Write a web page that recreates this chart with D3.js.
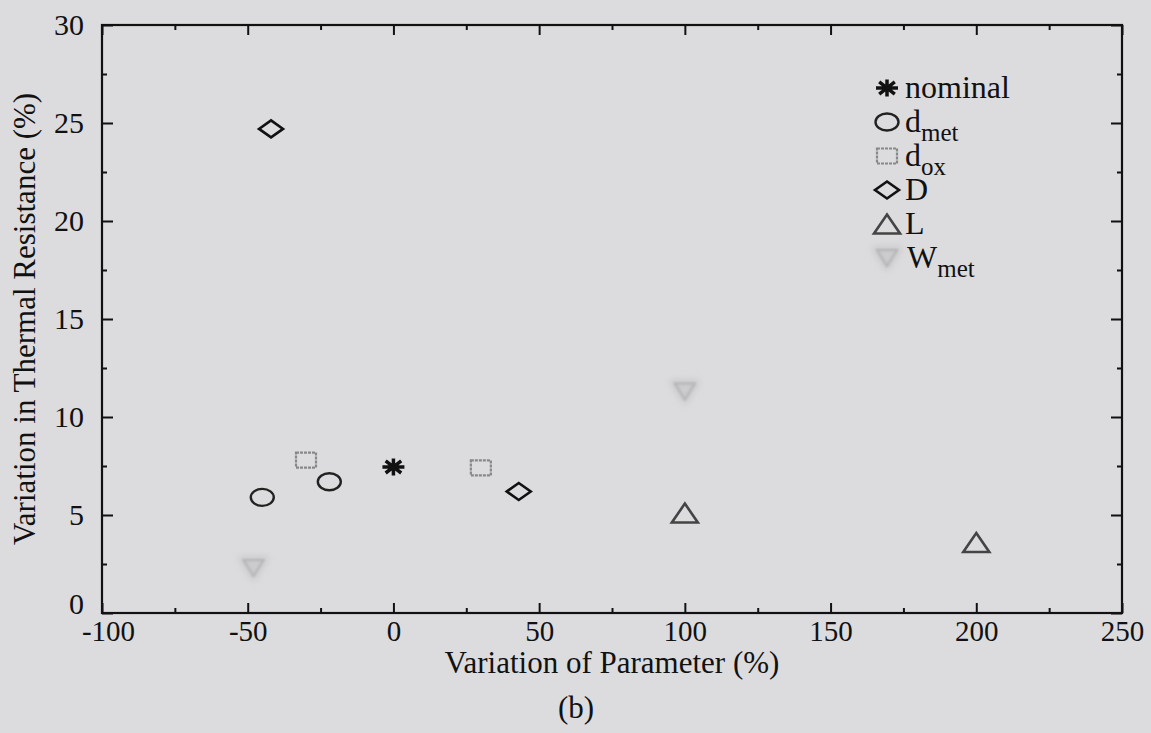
<!DOCTYPE html>
<html>
<head>
<meta charset="utf-8">
<script src="https://cdn.jsdelivr.net/npm/d3@7"></script>
<style>
  body { margin: 0; background: #dcdcdf; }
  svg { display: block; }
  text { font-family: "Liberation Serif", "Times New Roman", serif; fill: #111; }
</style>
</head>
<body>
<svg width="1151" height="733"></svg>
<script>
// data
const xTicks = [-100, -50, 0, 50, 100, 150, 200, 250];
const xMinor = [-75, -25, 25, 75, 125, 175, 225];
const yTicks = [0, 5, 10, 15, 20, 25, 30];
const yMinor = [2.5, 7.5, 12.5, 17.5, 22.5, 27.5];

const seriesNames = ["nominal", "dmet", "dox", "D", "L", "Wmet"];
const nominalX = [0], nominalY = [7.45];
const dmetX = [-45, -22], dmetY = [5.9, 6.7];
const doxX = [-30, 30], doxY = [7.8, 7.4];
const DX = [-42, 43], DY = [24.7, 6.2];
const LX = [100, 200], LY = [5.1, 3.6];
const WmetX = [-48, 100], WmetY = [2.3, 11.3];

const svg = d3.select("svg");
const margin = { left: 102, right: 29, top: 25, bottom: 120 };
const W = 1151, H = 733;

const x = d3.scaleLinear().domain([-100, 250]).range([margin.left, W - margin.right]);
const y = d3.scaleLinear().domain([0, 30]).range([H - margin.bottom, margin.top]);

// blur for the faded marks
const defs = svg.append("defs");
defs.append("filter").attr("id", "fade").attr("x", "-100%").attr("y", "-100%")
  .attr("width", "300%").attr("height", "300%")
  .append("feGaussianBlur").attr("stdDeviation", 3.5);
defs.append("filter").attr("id", "soft")
  .append("feGaussianBlur").attr("stdDeviation", 0.8);

// marker shapes, stretched a bit wider than tall like in the scan
function shape(type, w, h) {
  const p = d3.path(), a = w / 2, b = h / 2;
  if (type === "square") { p.rect(-a, -b, w, h); }
  if (type === "diamond") { p.moveTo(0, -b); p.lineTo(a, 0); p.lineTo(0, b); p.lineTo(-a, 0); p.closePath(); }
  if (type === "up") { p.moveTo(0, -b); p.lineTo(a, b); p.lineTo(-a, b); p.closePath(); }
  if (type === "down") { p.moveTo(-a, -b); p.lineTo(a, -b); p.lineTo(0, b); p.closePath(); }
  if (type === "star") {
    for (let k = 0; k < 4; k++) {
      const t = k * Math.PI / 4;
      p.moveTo(-a * Math.sin(t), -b * Math.cos(t));
      p.lineTo(a * Math.sin(t), b * Math.cos(t));
    }
  }
  return p.toString();
}
function ellipsePath(w, h) {
  const a = w / 2, b = h / 2;
  return `M${-a},0A${a},${b} 0 1,0 ${a},0A${a},${b} 0 1,0 ${-a},0Z`;
}

const styles = {
  nominal: { d: shape("star", 22, 17), stroke: "#111", sw: 3.5, dash: null, blur: false },
  dmet: { d: ellipsePath(23, 17), stroke: "#222", sw: 2.4, dash: null, blur: false },
  dox: { d: shape("square", 20, 15), stroke: "#888", sw: 2.2, dash: "3,1", blur: false },
  D: { d: shape("diamond", 24, 17), stroke: "#111", sw: 2.6, dash: null, blur: false },
  L: { d: shape("up", 26, 19), stroke: "#444", sw: 2.6, dash: null, blur: false },
  Wmet: { d: shape("down", 20, 16), stroke: "#b4b4b6", sw: 2, dash: null, blur: true }
};

const series = [
  { name: "nominal", xs: nominalX, ys: nominalY },
  { name: "dmet", xs: dmetX, ys: dmetY },
  { name: "dox", xs: doxX, ys: doxY },
  { name: "D", xs: DX, ys: DY },
  { name: "L", xs: LX, ys: LY },
  { name: "Wmet", xs: WmetX, ys: WmetY }
];

function drawMark(g, name) {
  const s = styles[name];
  if (s.blur) {
    g.append("path").attr("d", s.d).attr("fill", "none").attr("stroke", "#c8c8ca")
      .attr("stroke-width", 7).attr("filter", "url(#fade)");
  }
  g.append("path").attr("d", s.d).attr("fill", "none").attr("stroke", s.stroke)
    .attr("stroke-width", s.sw).attr("stroke-dasharray", s.dash)
    .attr("filter", s.blur ? "url(#soft)" : null)
    .attr("stroke-linejoin", "miter");
}

// axes: inward ticks on all four sides
function styleAxis(g) {
  g.select(".domain").remove();
  g.selectAll("line").attr("stroke", "#111").attr("stroke-width", 2);
  g.selectAll("text").attr("font-size", 29).attr("font-family", "Liberation Serif, serif").attr("fill", "#111");
}
const plain = d => String(d);
svg.append("g").attr("transform", `translate(0,${y(0)})`)
  .call(d3.axisBottom(x).tickValues(xTicks).tickSize(-10).tickPadding(7).tickFormat(plain))
  .call(styleAxis)
  .call(g => g.selectAll(".tick text").filter(d => d === -100).attr("dx", 6));
svg.append("g").attr("transform", `translate(0,${y(0)})`)
  .call(d3.axisBottom(x).tickValues(xMinor).tickSize(-5).tickFormat("")).call(styleAxis);
svg.append("g").attr("transform", `translate(0,${y(30)})`)
  .call(d3.axisTop(x).tickValues(xTicks).tickSize(-10).tickFormat("")).call(styleAxis);
svg.append("g").attr("transform", `translate(0,${y(30)})`)
  .call(d3.axisTop(x).tickValues(xMinor).tickSize(-5).tickFormat("")).call(styleAxis);
svg.append("g").attr("transform", `translate(${x(-100)},0)`)
  .call(d3.axisLeft(y).tickValues(yTicks).tickSize(-11).tickPadding(18).tickFormat(plain))
  .call(styleAxis)
  .call(g => g.selectAll(".tick text").attr("font-size", 30).filter(d => d === 0).attr("y", -9));
svg.append("g").attr("transform", `translate(${x(-100)},0)`)
  .call(d3.axisLeft(y).tickValues(yMinor).tickSize(-5).tickFormat("")).call(styleAxis);
svg.append("g").attr("transform", `translate(${x(250)},0)`)
  .call(d3.axisRight(y).tickValues(yTicks).tickSize(-11).tickFormat("")).call(styleAxis);
svg.append("g").attr("transform", `translate(${x(250)},0)`)
  .call(d3.axisRight(y).tickValues(yMinor).tickSize(-5).tickFormat("")).call(styleAxis);

// frame
svg.append("rect").attr("x", x(-100)).attr("y", y(30))
  .attr("width", x(250) - x(-100)).attr("height", y(0) - y(30))
  .attr("fill", "none").attr("stroke", "#111").attr("stroke-width", 2.2);

// points
series.forEach(s => {
  s.xs.forEach((v, i) => {
    const g = svg.append("g").attr("transform", `translate(${x(v)},${y(s.ys[i])})`);
    drawMark(g, s.name);
  });
});

// legend
const legendLabels = [["nominal", ""], ["d", "met"], ["d", "ox"], ["D", ""], ["L", ""], ["W", "met"]];
const leg = svg.append("g").attr("transform", "translate(887,88)");
seriesNames.forEach((name, i) => {
  const row = leg.append("g").attr("transform", `translate(0,${i * 34})`);
  drawMark(row, name);
  const t = row.append("text").attr("x", name === "Wmet" ? 20 : 18).attr("y", 10).attr("font-size", 32);
  t.append("tspan").text(legendLabels[i][0]);
  if (legendLabels[i][1]) {
    t.append("tspan").attr("dy", 9).attr("font-size", 25).text(legendLabels[i][1]);
  }
});

// titles
svg.append("text").attr("x", (x(-100) + x(250)) / 2).attr("y", 673)
  .attr("text-anchor", "middle").attr("font-size", 31).text("Variation of Parameter (%)");
svg.append("text").attr("transform", `translate(35,${(y(0) + y(30)) / 2}) rotate(-90)`)
  .attr("text-anchor", "middle").attr("font-size", 31).text("Variation in Thermal Resistance (%)");
svg.append("text").attr("x", 576).attr("y", 718)
  .attr("text-anchor", "middle").attr("font-size", 31).text("(b)");
</script>
</body>
</html>
